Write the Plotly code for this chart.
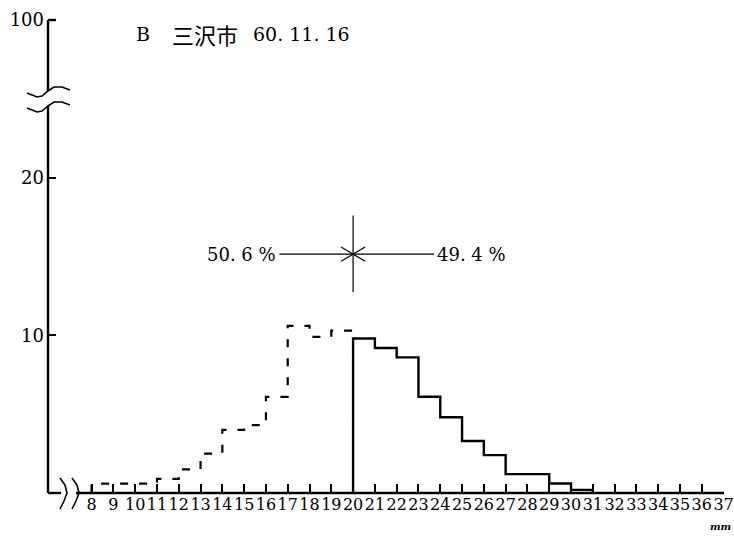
import plotly.graph_objects as go

# ---- data ----
sizes_small = [8, 9, 10, 11, 12, 13, 14, 15, 16, 17, 18, 19]          # bins < 20 mm (dashed)
pct_small = [0.6, 0.6, 0.6, 0.9, 1.5, 2.5, 4.0, 4.3, 6.1, 10.6, 9.9, 10.3]
sizes_large = [20, 21, 22, 23, 24, 25, 26, 27, 28, 29, 30]          # bins >= 20 mm (solid)
pct_large = [9.8, 9.2, 8.6, 6.1, 4.8, 3.3, 2.4, 1.2, 1.2, 0.6, 0.2]
x_ticks = list(range(8, 38))
y_ticks = [10, 20, 30]
y_ticklabels = ["10", "20", "100"]
split_size = 20
left_label = "50. 6 %"
right_label = "49. 4 %"
title_parts = ["B", "三沢市", "60. 11. 16"]
unit_label = "mm"

SERIF = "DejaVu Serif, Noto Sans CJK JP, serif"

# ---- geometry ----
W, H = 734, 536
ML, MR, MT, MB = 48, 10, 20, 43
PW, PH = W - ML - MR, H - MT - MB
XR = [6, 37.02]
YR = [0, 30]


def px(xp):
    return (xp - ML) / PW


def py(yp):
    return (H - MB - yp) / PH


# step lines
xs_small = [sizes_small[0]] + sizes_small + [sizes_small[-1] + 1]
ys_small = [0] + pct_small + [pct_small[-1]]
xs_large = [sizes_large[0]] + sizes_large + [sizes_large[-1] + 1, sizes_large[-1] + 1]
ys_large = [0] + pct_large + [pct_large[-1], 0]

fig = go.Figure()
fig.add_trace(go.Scatter(x=xs_small, y=ys_small, mode="lines", line_shape="hv",
                         line=dict(color="black", width=2.2, dash="8px,11px"),
                         hoverinfo="skip", showlegend=False))
fig.add_trace(go.Scatter(x=xs_large, y=ys_large, mode="lines", line_shape="hv",
                         line=dict(color="black", width=2.4),
                         hoverinfo="skip", showlegend=False))

shapes = []
blk = dict(color="black", width=2.4)
# y axis line with break
shapes.append(dict(type="line", xref="paper", yref="paper", x0=0, x1=0,
                   y0=py(20), y1=py(91), line=blk))
shapes.append(dict(type="line", xref="paper", yref="paper", x0=0, x1=0,
                   y0=py(106), y1=py(H - MB), line=blk))
# top tick of y axis
shapes.append(dict(type="line", xref="paper", yref="paper", x0=0, x1=px(56),
                   y0=py(20), y1=py(20), line=blk))


def wave_h(yc):
    pts = [(27, yc + 2), (37, yc + 6), (42, yc + 5), (48, yc), (54, yc - 4), (62, yc - 4), (70, yc - 1)]
    return "M " + " L ".join(f"{px(a):.5f},{py(b):.5f}" for a, b in pts)


def wave_v(xc):
    pts = [(xc - 3, 478), (xc + 2, 485), (xc + 4, 493), (xc + 1, 501), (xc - 3, 509)]
    return "M " + " L ".join(f"{px(a):.5f},{py(b):.5f}" for a, b in pts)


shapes.append(dict(type="path", xref="paper", yref="paper", path=wave_h(91),
                   line=dict(color="black", width=1.6)))
shapes.append(dict(type="path", xref="paper", yref="paper", path=wave_h(106),
                   line=dict(color="black", width=1.6)))
# x axis line with break
shapes.append(dict(type="line", xref="paper", yref="paper", x0=0, x1=px(61),
                   y0=0, y1=0, line=blk))
shapes.append(dict(type="line", xref="paper", yref="paper", x0=px(76), x1=1,
                   y0=0, y1=0, line=blk))
shapes.append(dict(type="path", xref="paper", yref="paper", path=wave_v(63),
                   line=dict(color="black", width=1.6)))
shapes.append(dict(type="path", xref="paper", yref="paper", path=wave_v(75),
                   line=dict(color="black", width=1.6)))

# cross marking the 20 mm split
cross_y = 15.15
thin = dict(color="black", width=1.2)
shapes.append(dict(type="line", xref="x", yref="y", x0=split_size, x1=split_size,
                   y0=12.75, y1=17.6, line=thin))
shapes.append(dict(type="line", xref="x", yref="y", x0=16.62, x1=23.72,
                   y0=cross_y, y1=cross_y, line=thin))
shapes.append(dict(type="line", xref="x", yref="y", x0=split_size - 0.55, x1=split_size + 0.55,
                   y0=cross_y - 0.45, y1=cross_y + 0.45, line=thin))
shapes.append(dict(type="line", xref="x", yref="y", x0=split_size - 0.55, x1=split_size + 0.55,
                   y0=cross_y + 0.45, y1=cross_y - 0.45, line=thin))

annotations = [
    dict(x=16.55, y=cross_y, xref="x", yref="y", text=left_label, showarrow=False,
         xanchor="right", yanchor="middle", font=dict(family=SERIF, size=18, color="black")),
    dict(x=23.78, y=cross_y, xref="x", yref="y", text=right_label, showarrow=False,
         xanchor="left", yanchor="middle", font=dict(family=SERIF, size=18, color="black")),
    dict(x=px(134), y=py(34), xref="paper", yref="paper", text=title_parts[0], showarrow=False,
         xanchor="left", yanchor="middle", font=dict(family=SERIF, size=19, color="black")),
    dict(x=px(170), y=py(34), xref="paper", yref="paper", text=title_parts[1], showarrow=False,
         xanchor="left", yanchor="middle", font=dict(family="Noto Sans CJK JP", size=22, color="black")),
    dict(x=px(251), y=py(34), xref="paper", yref="paper", text=title_parts[2], showarrow=False,
         xanchor="left", yanchor="middle", font=dict(family=SERIF, size=19, color="black")),
    dict(x=px(733), y=py(526), xref="paper", yref="paper", text=f"<b><i>{unit_label}</i></b>",
         showarrow=False, xanchor="right", yanchor="middle",
         font=dict(family=SERIF, size=10, color="black")),
]

fig.update_layout(
    width=W, height=H,
    margin=dict(l=ML, r=MR, t=MT, b=MB, pad=0, autoexpand=False),
    paper_bgcolor="white", plot_bgcolor="white",
    shapes=shapes, annotations=annotations,
    xaxis=dict(range=XR, tickmode="array", tickvals=x_ticks, ticktext=[str(v) for v in x_ticks],
               ticks="inside", ticklen=9, tickwidth=2, tickcolor="black", tickangle=0,
               automargin=False, ticklabeloverflow="allow",
               showgrid=False, zeroline=False, showline=False,
               tickfont=dict(family=SERIF, size=16, color="black")),
    yaxis=dict(range=YR, tickmode="array", tickvals=y_ticks, ticktext=y_ticklabels,
               ticks="inside", ticklen=8, tickwidth=2, tickcolor="black",
               automargin=False, ticklabelstandoff=3, ticklabeloverflow="allow",
               showgrid=False, zeroline=False, showline=False,
               tickfont=dict(family=SERIF, size=18, color="black")),
)

fig.write_html("out.html", config={"displayModeBar": False},
               post_script="document.body.style.margin='0';document.body.style.padding='0';")
